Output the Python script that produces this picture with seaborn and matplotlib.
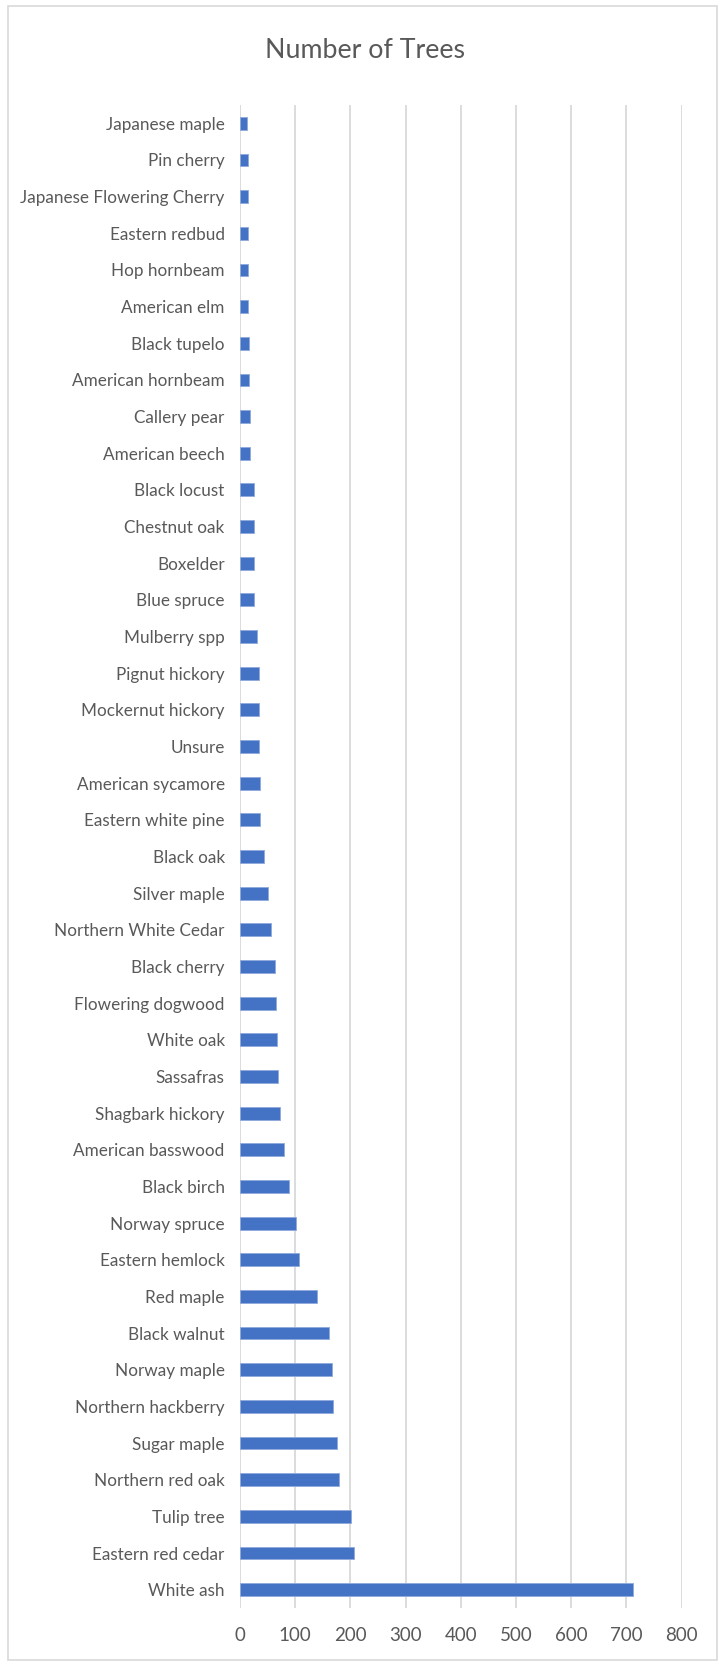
import matplotlib
matplotlib.use("Agg")
import matplotlib.pyplot as plt
import seaborn as sns
import pandas as pd
from matplotlib.patches import Rectangle

species = [
    "Japanese maple", "Pin cherry", "Japanese Flowering Cherry", "Eastern redbud",
    "Hop hornbeam", "American elm", "Black tupelo", "American hornbeam",
    "Callery pear", "American beech", "Black locust", "Chestnut oak", "Boxelder",
    "Blue spruce", "Mulberry spp", "Pignut hickory", "Mockernut hickory", "Unsure",
    "American sycamore", "Eastern white pine", "Black oak", "Silver maple",
    "Northern White Cedar", "Black cherry", "Flowering dogwood", "White oak",
    "Sassafras", "Shagbark hickory", "American basswood", "Black birch",
    "Norway spruce", "Eastern hemlock", "Red maple", "Black walnut", "Norway maple",
    "Northern hackberry", "Sugar maple", "Northern red oak", "Tulip tree",
    "Eastern red cedar", "White ash",
]
counts = [
    12, 14, 14, 14, 14, 14, 16, 16, 18, 19, 25, 26, 26, 26, 30, 34, 34, 34, 36, 37,
    44, 51, 56, 63, 65, 67, 69, 72, 79, 88, 102, 106, 139, 162, 166, 168, 175, 179,
    201, 206, 711,
]
x_ticks = [0, 100, 200, 300, 400, 500, 600, 700, 800]
title = "Number of Trees"

df = pd.DataFrame({"species": species, "count": counts})

sns.set_theme(style="white")
plt.rcParams["font.family"] = ["Lato", "DejaVu Sans"]

fig = plt.figure(figsize=(7.21, 16.62), dpi=100)
ax = fig.add_axes([240 / 721, 1 - 1608 / 1662, (681.7 - 240) / 721, (1608 - 105) / 1662])

sns.barplot(data=df, x="count", y="species", order=species, color="#4472C4",
            saturation=1, width=0.35, ax=ax, edgecolor="#8FAADC", linewidth=0.6)

ax.set_xlim(0, 800)
ax.set_xticks(x_ticks)
ax.set_xlabel("")
ax.set_ylabel("")
ax.grid(axis="x", color="#D9D9D9", linewidth=1.3)
ax.set_axisbelow(True)
for s in ax.spines.values():
    s.set_visible(False)
ax.tick_params(axis="y", length=0, pad=11, labelsize=12.3, labelcolor="#595959")
ax.tick_params(axis="x", length=0, pad=14, labelsize=13.5, labelcolor="#595959")

fig.text(0.506, 1 - 51 / 1662, title, ha="center", va="center", fontsize=19.3, color="#595959")
fig.patches.append(Rectangle((8 / 721, 2 / 1662), 709 / 721, 1654 / 1662,
                             transform=fig.transFigure, fill=False,
                             edgecolor="#D9D9D9", linewidth=1.2))

fig.savefig("out.png", dpi=100)
